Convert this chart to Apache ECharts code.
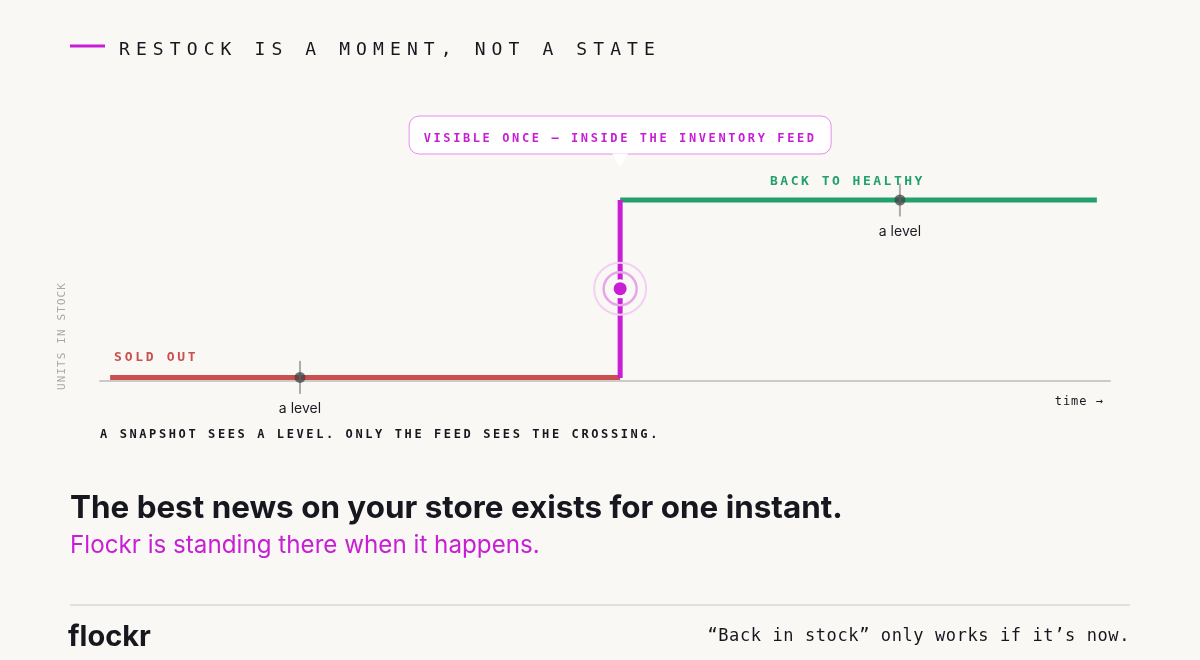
<!DOCTYPE html>
<html><head><meta charset="utf-8">
<script src="https://cdn.jsdelivr.net/npm/echarts@6/dist/echarts.min.js"></script>
<style>html,body{margin:0;padding:0;background:#f9f8f4}#c{width:1200px;height:660px}</style>
</head><body><div id="c"></div>
<script>
// letter-spacing shim: a font family token "lsN" (N px, '_' as decimal point) sets canvas letterSpacing
(function () {
  var P = CanvasRenderingContext2D.prototype;
  function apply(ctx) {
    var m = /\bls(\d+(?:_\d+)?)\b/.exec(ctx.font || '');
    var v = m ? m[1].replace('_', '.') + 'px' : '0px';
    if ('letterSpacing' in ctx && ctx.letterSpacing !== v) ctx.letterSpacing = v;
  }
  var ft = P.fillText, st = P.strokeText, mt = P.measureText;
  P.fillText = function () { apply(this); return ft.apply(this, arguments); };
  P.strokeText = function () { apply(this); return st.apply(this, arguments); };
  P.measureText = function () { apply(this); return mt.apply(this, arguments); };
})();

// ---- data ----
var timeRange = [0, 100];
var unitsRange = [0, 100];
var soldOut = [[1, 2], [51.5, 2]];
var restockJump = [[51.5, 1.6], [51.5, 100]];
var healthy = [[51.5, 100], [98.7, 100]];
var crossing = [[51.5, 51]];
var snapshots = [[19.8, 2], [79.2, 100]];

// ---- text ----
var titleText = 'RESTOCK IS A MOMENT, NOT A STATE';
var calloutText = 'VISIBLE ONCE — INSIDE THE INVENTORY FEED';
var soldOutText = 'SOLD OUT';
var healthyText = 'BACK TO HEALTHY';
var snapshotLabel = 'a level';
var yAxisName = 'UNITS IN STOCK';
var xAxisName = 'time →';
var captionText = 'A SNAPSHOT SEES A LEVEL. ONLY THE FEED SEES THE CROSSING.';
var headline = 'The best news on your store exists for one instant.';
var subline = 'Flockr is standing there when it happens.';
var brand = 'flockr';
var tagline = '“Back in stock” only works if it’s now.';

var C = {
  bg: '#f9f8f4', ink: '#17171f', magenta: '#c81ed6', red: '#c9504f', green: '#24a06c',
  axis: '#cdcbc8'
};
function mono(ls) { return '"DejaVu Sans Mono", ls' + String(ls).replace('.', '_') + ', monospace'; }
var SANS = 'Inter, "Noto Sans", sans-serif';

var chart = echarts.init(document.getElementById('c'), null, { renderer: 'canvas' });

var option = {
  backgroundColor: C.bg,
  animation: false,
  grid: { left: 100, right: 90, top: 200, bottom: 279 },
  xAxis: {
    type: 'value', min: timeRange[0], max: timeRange[1],
    axisLine: { show: true, lineStyle: { color: C.axis, width: 2 } },
    axisTick: { show: false }, axisLabel: { show: false }, splitLine: { show: false }
  },
  yAxis: {
    type: 'value', min: unitsRange[0], max: unitsRange[1], show: false
  },
  series: [
    { type: 'line', data: soldOut, symbol: 'none', clip: false, z: 3,
      lineStyle: { color: C.red, width: 5, cap: 'butt' } },
    { type: 'line', data: healthy, symbol: 'none', clip: false, z: 3,
      lineStyle: { color: C.green, width: 5, cap: 'butt' } },
    { type: 'line', data: restockJump, symbol: 'none', clip: false, z: 4,
      lineStyle: { color: C.magenta, width: 5, cap: 'butt' } },
    // crossing rings
    { type: 'scatter', data: crossing, symbol: 'circle', symbolSize: 52, clip: false, z: 5, silent: true,
      itemStyle: { color: 'rgba(0,0,0,0)', borderColor: '#f3d0f3', borderWidth: 2, opacity: 1 } },
    { type: 'scatter', data: crossing, symbol: 'circle', symbolSize: 33, clip: false, z: 5, silent: true,
      itemStyle: { color: 'rgba(0,0,0,0)', borderColor: '#e6a6e9', borderWidth: 2.5, opacity: 1 } },
    { type: 'scatter', data: crossing, symbol: 'circle', symbolSize: 19, clip: false, z: 6, silent: true,
      itemStyle: { color: C.bg, opacity: 1 } },
    { type: 'scatter', data: crossing, symbol: 'circle', symbolSize: 13, clip: false, z: 7, silent: true,
      itemStyle: { color: C.magenta, opacity: 1 } },
    // snapshots
    { type: 'scatter', data: snapshots, symbol: 'rect', symbolSize: [2, 33], clip: false, z: 8, silent: true,
      itemStyle: { color: '#acacac', opacity: 1 },
      label: { show: true, position: 'bottom', distance: 8, formatter: snapshotLabel,
        color: '#1b1b22', fontSize: 14, fontFamily: SANS } },
    { type: 'scatter', data: snapshots, symbol: 'circle', symbolSize: 11, clip: false, z: 9, silent: true,
      itemStyle: { color: 'rgba(62,62,66,0.72)', opacity: 1 } }
  ]
};
chart.setOption(option);

var px = function (p) { return chart.convertToPixel({ gridIndex: 0 }, p); };
var cTop = px([crossing[0][0], healthy[0][1]]);
var cx = cTop[0];
var axisEnd = px([timeRange[1], 0]);
var soldStart = px(soldOut[0]);
var healthyY = cTop[1];

chart.setOption({
  graphic: [
    { type: 'line', shape: { x1: 70, y1: 46, x2: 105, y2: 46 }, style: { stroke: C.magenta, lineWidth: 3 } },
    { type: 'text', x: 119, y: 50, style: { text: titleText, font: '18px ' + mono(6.1), fill: C.ink, verticalAlign: 'middle' } },

    // callout
    { type: 'rect', shape: { x: cx - 211, y: healthyY - 84, width: 422, height: 38, r: 10 },
      style: { fill: '#ffffff', stroke: '#e68cef', lineWidth: 1 }, z: 10 },
    { type: 'polygon', shape: { points: [[cx - 8, healthyY - 46.5], [cx + 8, healthyY - 46.5], [cx, healthyY - 33]] },
      style: { fill: '#ffffff' }, z: 11 },
    { type: 'text', x: cx, y: healthyY - 61, z: 12,
      style: { text: calloutText, font: 'bold 12px ' + mono(2.6), fill: C.magenta, align: 'center', verticalAlign: 'middle' } },

    { type: 'text', x: soldStart[0] + 4, y: soldStart[1] - 20,
      style: { text: soldOutText, font: 'bold 13px ' + mono(2.7), fill: C.red, verticalAlign: 'middle' } },
    { type: 'text', x: 770, y: healthyY - 18,
      style: { text: healthyText, font: 'bold 13px ' + mono(2.5), fill: C.green, verticalAlign: 'middle' } },

    { type: 'text', x: 62, y: 336, rotation: Math.PI / 2,
      style: { text: yAxisName, font: '11px ' + mono(1.1), fill: '#a8a8a8', align: 'center', verticalAlign: 'middle' } },
    { type: 'text', x: axisEnd[0] - 6, y: 402,
      style: { text: xAxisName, font: '12px ' + mono(1), fill: C.ink, align: 'right', verticalAlign: 'middle' } },
    { type: 'text', x: 100, y: 435,
      style: { text: captionText, font: 'bold 12px ' + mono(2.6), fill: C.ink, verticalAlign: 'middle' } },

    { type: 'text', x: 70, y: 509,
      style: { text: headline, font: 'bold 31.4px ' + SANS, fill: C.ink, verticalAlign: 'middle' } },
    { type: 'text', x: 70, y: 546,
      style: { text: subline, font: '24.2px ' + SANS, fill: C.magenta, verticalAlign: 'middle' } },

    { type: 'line', shape: { x1: 70, y1: 605, x2: 1130, y2: 605 }, style: { stroke: '#e2e0dc', lineWidth: 2 } },
    { type: 'text', x: 68, y: 637,
      style: { text: brand, font: 'bold 29px ' + SANS, fill: C.ink, verticalAlign: 'middle' } },
    { type: 'text', x: 1130, y: 637,
      style: { text: tagline, font: '17px ' + mono(0.6), fill: C.ink, align: 'right', verticalAlign: 'middle' } }
  ]
});
</script>
</body></html>
